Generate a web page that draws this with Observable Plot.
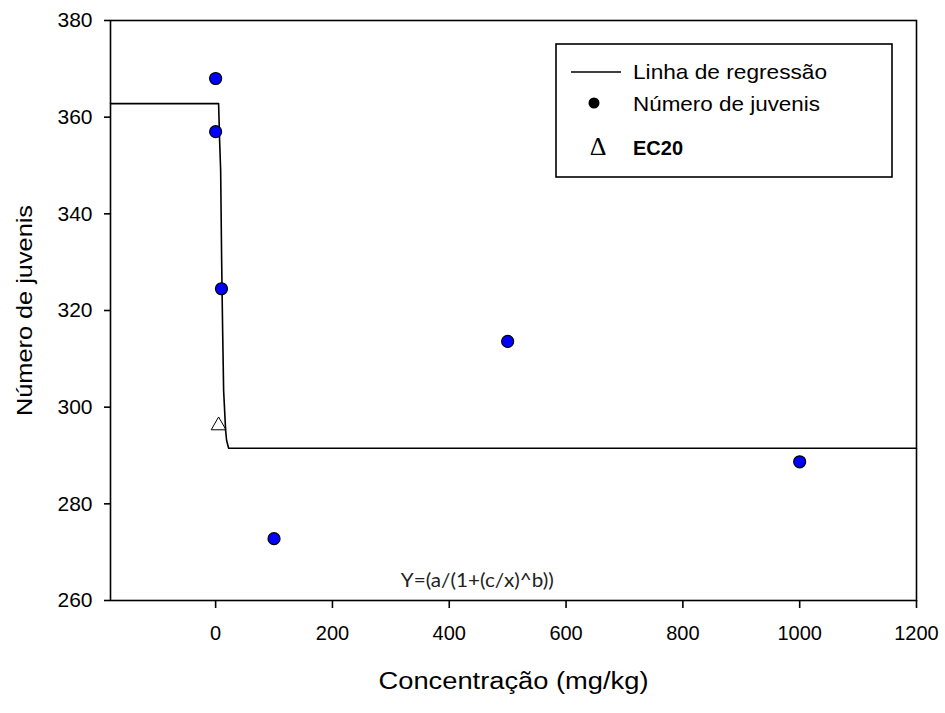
<!DOCTYPE html>
<html>
<head>
<meta charset="utf-8">
<script src="https://cdn.jsdelivr.net/npm/d3@7"></script>
<script src="https://cdn.jsdelivr.net/npm/@observablehq/plot@0.6"></script>
<style>
  html, body { margin: 0; padding: 0; background: #fff; }
  #wrap { position: relative; width: 945px; height: 713px; }
</style>
</head>
<body>
<div id="wrap"></div>
<script>
// Observed data
const conc = [0, 0, 10, 100, 500, 1000];
const juvenis = [368, 357, 324.5, 272.8, 313.6, 288.7];

// Regression line
const lineX = [-180, 5.1, 6.8, 8.6, 10.3, 12, 13.7, 17.1, 18.8, 22.3, 1200];
const lineY = [362.8, 362.8, 355.2, 349.0, 330.3, 315.9, 303.4, 295.2, 293.1, 291.5, 291.5];

// EC20 marker
const ec20X = [5.1];
const ec20Y = [296.2];

const xTicks = [0, 200, 400, 600, 800, 1000, 1200];
const yTicks = [260, 280, 300, 320, 340, 360, 380];

const xLabel = "Concentração (mg/kg)";
const yLabel = "Número de juvenis";
const equation = "Y=(a/(1+(c/x)^b))";
const legendLabels = ["Linha de regressão", "Número de juvenis", "EC20"];

const points = conc.map((c, i) => ({x: c, y: juvenis[i]}));
const line = lineX.map((x, i) => ({x, y: lineY[i]}));
const ec20 = ec20X.map((x, i) => ({x, y: ec20Y[i]}));

const font = "'Liberation Sans', Arial, sans-serif";

const chart = Plot.plot({
  width: 945,
  height: 713,
  marginLeft: 110,
  marginRight: 29,
  marginTop: 20,
  marginBottom: 113,
  style: {fontFamily: font, background: "#fff", color: "#000"},
  x: {domain: [-180, 1200]},
  y: {domain: [260, 380]},
  marks: [
    Plot.frame({stroke: "#000", strokeWidth: 1.6}),
    Plot.axisX({ticks: xTicks, tickSize: 8, tickPadding: 17, fontSize: 20, label: null, tickFormat: d => String(d), strokeWidth: 1.6}),
    Plot.axisY({ticks: yTicks, tickSize: 6, tickPadding: 12, fontSize: 21, label: null, tickFormat: d => String(d), strokeWidth: 1.6}),
    Plot.line(line, {x: "x", y: "y", stroke: "#000", strokeWidth: 1.6}),
    Plot.dot(points, {x: "x", y: "y", r: 6, fill: "#0000ff", stroke: "#000", strokeWidth: 1.2}),
    Plot.dot(ec20, {x: "x", y: "y", symbol: "triangle", r: 5.5, fill: "none", stroke: "#000", strokeWidth: 1}),
    Plot.text([equation], {x: [448], y: [262.7], text: d => d, fontSize: 20, fontFamily: "Lato, 'Open Sans', sans-serif", fill: "#222", lineAnchor: "bottom", textAnchor: "middle", className: "eq"}),
    Plot.text([xLabel], {frameAnchor: "bottom", dy: 88, lineAnchor: "bottom", textAnchor: "middle", fontSize: 23, fill: "#000", className: "xlab"}),
    Plot.text([yLabel], {frameAnchor: "left", dx: -86, rotate: -90, lineAnchor: "middle", textAnchor: "middle", fontSize: 22, fill: "#000", className: "ylab"})
  ]
});

const wrap = document.getElementById("wrap");
wrap.appendChild(chart);

// Stretch axis titles horizontally like the reference
function stretch(cls, len) {
  chart.querySelectorAll(`.${cls} text`).forEach(t => {
    t.setAttribute("textLength", len);
    t.setAttribute("lengthAdjust", "spacingAndGlyphs");
  });
}
stretch("xlab", 270);
stretch("ylab", 211);
stretch("eq", 153);

// Legend box overlay
const ns = "http://www.w3.org/2000/svg";
const leg = document.createElementNS(ns, "svg");
leg.setAttribute("width", 338);
leg.setAttribute("height", 136);
leg.style.position = "absolute";
leg.style.left = "555px";
leg.style.top = "43px";
leg.innerHTML = `
  <rect x="1" y="1" width="336" height="133" fill="#fff" stroke="#000" stroke-width="1.6"/>
  <line x1="16" x2="66" y1="29" y2="29" stroke="#000" stroke-width="1.6"/>
  <text x="78" y="36" font-family="${font}" font-size="21" textLength="194" lengthAdjust="spacingAndGlyphs">${legendLabels[0]}</text>
  <circle cx="39" cy="60" r="5.5" fill="#000"/>
  <text x="78" y="68" font-family="${font}" font-size="21" textLength="187" lengthAdjust="spacingAndGlyphs">${legendLabels[1]}</text>
  <text x="43" y="112" text-anchor="middle" font-family="'Liberation Serif', 'DejaVu Serif', serif" font-size="26">Δ</text>
  <text x="78" y="112" font-family="${font}" font-size="20" font-weight="bold">${legendLabels[2]}</text>
`;
wrap.appendChild(leg);
</script>
</body>
</html>
